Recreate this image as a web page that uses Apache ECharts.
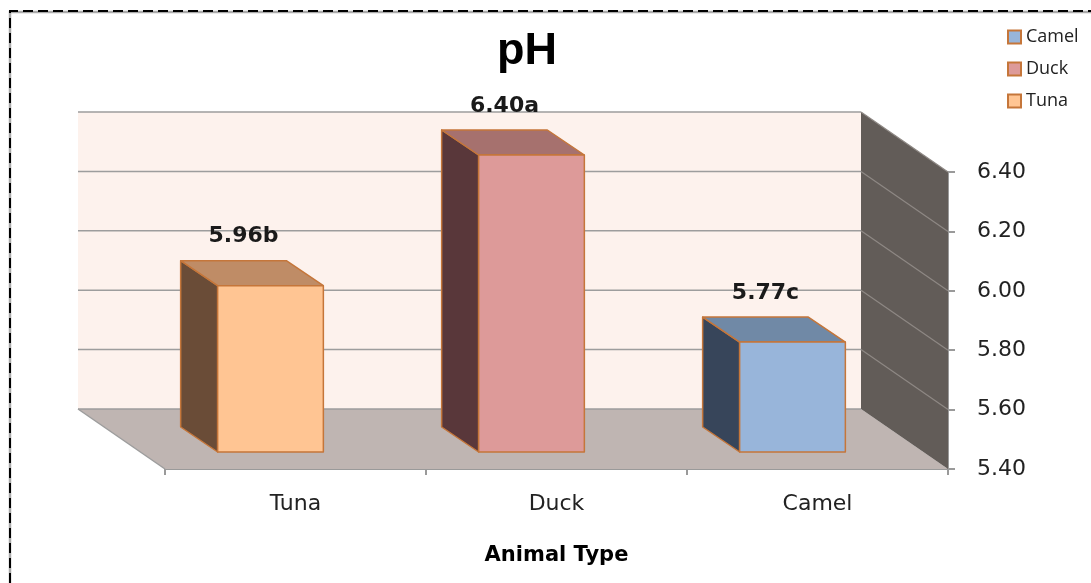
<!DOCTYPE html>
<html>
<head>
<meta charset="utf-8">
<script src="https://cdn.jsdelivr.net/npm/echarts@6/dist/echarts.min.js"></script>
<style>
html,body{margin:0;padding:0;background:#fff;}
#chart{width:1091px;height:583px;}
</style>
</head>
<body>
<div id="chart"></div>
<script>
// ---- data ----
const categories = ['Tuna', 'Duck', 'Camel'];
const phValues = [5.96, 6.40, 5.77];
const letters = ['b', 'a', 'c'];
const legendOrder = ['Camel', 'Duck', 'Tuna'];
const yTicks = { min: 5.4, max: 6.4, step: 0.2 };

// ---- styles ----
const faceColors = {
  Tuna:  { front: '#ffc593', side: '#6a4c37', top: '#bf8c66' },
  Duck:  { front: '#dd9a99', side: '#59373a', top: '#a6716e' },
  Camel: { front: '#98b5da', side: '#37455a', top: '#7089a6' }
};
const BORDER = '#c5763a';
const WALL_DEPTH = [-87, -60];   // floor/back-wall depth vector
const BAR_SHIFT = [-25, -17];    // bar front plane offset
const BAR_DEPTH = [-37, -25];    // bar depth vector
const BAR_FRAC = 0.405;

const chart = echarts.init(document.getElementById('chart'));

function renderWalls(params, api) {
  const cs = params.coordSys;
  const [dx, dy] = WALL_DEPTH;
  const x0 = cs.x, x1 = cs.x + cs.width;
  const yb = api.coord([0, yTicks.min])[1];
  const yt = api.coord([0, yTicks.max])[1];
  const children = [];
  children.push({ type: 'rect', shape: { x: x0 + dx, y: yt + dy, width: cs.width, height: yb - yt },
    style: { fill: '#fdf2ed' } });
  children.push({ type: 'polygon', shape: { points: [[x0, yb], [x1, yb], [x1 + dx, yb + dy], [x0 + dx, yb + dy]] },
    style: { fill: '#bfb5b2' } });
  children.push({ type: 'polygon', shape: { points: [[x1, yt], [x1, yb], [x1 + dx, yb + dy], [x1 + dx, yt + dy]] },
    style: { fill: '#625c58' } });
  for (let v = yTicks.min; v <= yTicks.max + 1e-9; v += yTicks.step) {
    const y = api.coord([0, v])[1];
    children.push({ type: 'line', shape: { x1: x0 + dx, y1: y + dy, x2: x1 + dx, y2: y + dy },
      style: { stroke: '#9d9d9d', lineWidth: 1.5 } });
    if (v > yTicks.min + 1e-9) {
      children.push({ type: 'line', shape: { x1: x1 + dx, y1: y + dy, x2: x1, y2: y },
        style: { stroke: '#8e8884', lineWidth: 1.2 } });
    }
  }
  children.push({ type: 'line', shape: { x1: x0 + dx, y1: yb + dy, x2: x0, y2: yb },
    style: { stroke: '#9d9d9d', lineWidth: 1.5 } });
  return { type: 'group', children };
}

function makeBarRenderer(name) {
  const c = faceColors[name];
  return function (params, api) {
    const idx = api.value(0), v = api.value(1);
    const top = api.coord([idx, v]);
    const bot = api.coord([idx, yTicks.min]);
    const band = api.size([1, 0])[0];
    const w = band * BAR_FRAC;
    const fx = top[0] + BAR_SHIFT[0] - w / 2;
    const fy = top[1] + BAR_SHIFT[1];
    const by = bot[1] + BAR_SHIFT[1];
    const [dx, dy] = BAR_DEPTH;
    const st = { stroke: BORDER, lineWidth: 1.5, lineJoin: 'round' };
    const lbl = v.toFixed(2) + letters[idx];
    return { type: 'group', children: [
      { type: 'polygon', shape: { points: [[fx, fy], [fx + dx, fy + dy], [fx + dx, by + dy], [fx, by]] },
        style: Object.assign({ fill: c.side }, st) },
      { type: 'polygon', shape: { points: [[fx, fy], [fx + dx, fy + dy], [fx + w + dx, fy + dy], [fx + w, fy]] },
        style: Object.assign({ fill: c.top }, st) },
      { type: 'rect', shape: { x: fx, y: fy, width: w, height: by - fy },
        style: Object.assign({ fill: c.front }, st) },
      { type: 'text', x: fx + w / 2 - 27, y: fy - 49,
        style: { text: lbl, fill: '#1a1a1a', font: 'bold 22px "DejaVu Sans"', align: 'center', verticalAlign: 'middle' } }
    ]};
  };
}

const series = [{
  type: 'custom', name: '_walls', silent: true, z: 1, clip: false,
  renderItem: renderWalls, data: [[0, yTicks.min]], encode: { x: 0, y: 1 }
}];
categories.forEach((name, i) => {
  series.push({
    type: 'custom', name: name, z: 5, clip: false,
    renderItem: makeBarRenderer(name),
    itemStyle: { color: faceColors[name].front, borderColor: BORDER, borderWidth: 2 },
    data: [[i, phValues[i]]], encode: { x: 0, y: 1 }
  });
});

chart.setOption({
  animation: false,
  title: { text: 'pH', left: 492, top: 24,
    textStyle: { fontFamily: '"Liberation Sans", Arial', fontWeight: 'bold', fontSize: 45, color: '#000' } },
  legend: {
    orient: 'vertical', left: 1002, top: 23, itemWidth: 13, itemHeight: 13, itemGap: 14,
    icon: 'rect',
    data: legendOrder.map(n => ({ name: n, itemStyle: { color: faceColors[n].front, borderColor: BORDER, borderWidth: 2 } })),
    textStyle: { fontFamily: '"Open Sans"', fontSize: 18, color: '#222', padding: [0, 0, 0, 0] }
  },
  grid: { left: 165, right: 143, top: 172, bottom: 114 },
  xAxis: {
    type: 'category', data: categories,
    axisLine: { lineStyle: { color: '#9a9a9a', width: 2 } },
    axisTick: { show: true, length: 6, interval: 0, lineStyle: { color: '#9a9a9a', width: 2 } },
    axisLabel: { fontFamily: '"DejaVu Sans"', fontSize: 22, color: '#222', margin: 24 },
    name: 'Animal Type', nameLocation: 'middle', nameGap: 76,
    nameTextStyle: { fontFamily: '"DejaVu Sans"', fontWeight: 'bold', fontSize: 21, color: '#000' }
  },
  yAxis: {
    type: 'value', position: 'right', min: yTicks.min, max: yTicks.max, interval: yTicks.step,
    axisLine: { show: true, lineStyle: { color: '#9a9a9a', width: 2 } },
    axisTick: { show: true, length: 7, lineStyle: { color: '#9a9a9a', width: 2 } },
    splitLine: { show: false },
    axisLabel: { fontFamily: '"DejaVu Sans"', fontSize: 22, color: '#222', margin: 29,
      formatter: v => v.toFixed(2) }
  },
  graphic: [
    { type: 'polyline', silent: true, shape: { points: [[10, 583], [10, 12], [1091, 12]] },
      style: { stroke: '#aaaaaa', lineWidth: 2.5, fill: null }, z: 0 },
    { type: 'polyline', silent: true, shape: { points: [[10, 583], [10, 11], [1091, 11]] },
      style: { stroke: '#000', lineWidth: 2, lineDash: [10, 5], fill: null }, z: 0 }
  ],
  series: series
});
</script>
</body>
</html>
